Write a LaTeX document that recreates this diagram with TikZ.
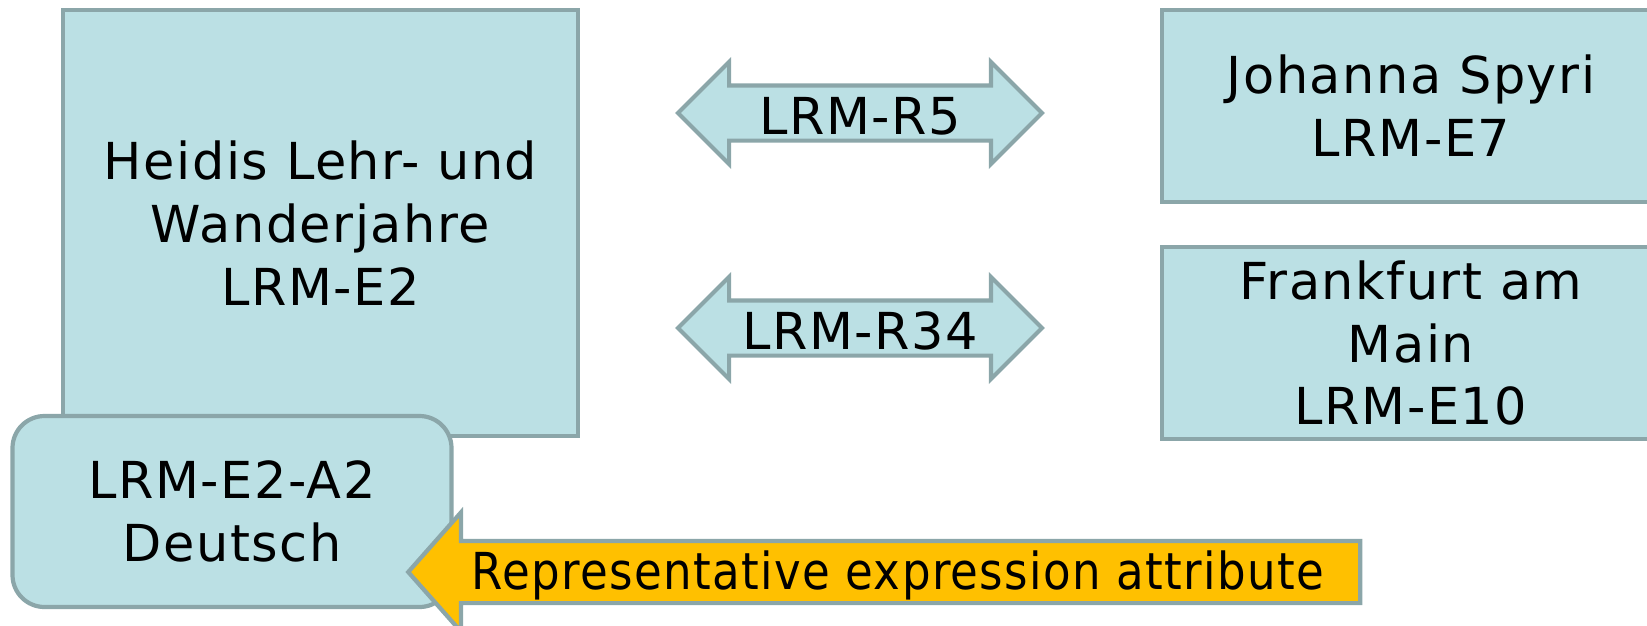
\documentclass[tikz,border=0pt]{standalone}
\usepackage{fontspec}
\setmainfont{DejaVu Sans}
\usepackage{graphicx}
\usetikzlibrary{shapes.arrows,positioning}
\definecolor{kastenfarbe}{RGB}{187,224,228}
\definecolor{randfarbe}{RGB}{139,166,169}
\definecolor{pfeilorange}{RGB}{255,192,0}
\newcommand{\grosstext}{\fontsize{14.5}{17.9}\selectfont\addfontfeature{LetterSpace=3}}

\begin{document}
\begin{tikzpicture}
		\useasboundingbox (0,0) rectangle (16.47,6.25);

		\begin{scope}[every node/.style={draw=randfarbe,fill=kastenfarbe,line width=1.2pt,align=center,inner sep=0pt,font=\grosstext}]
			\node[minimum width=5.15cm,minimum height=4.255cm] (werk) at (3.205,4.02) {Heidis Lehr- und\\Wanderjahre\\LRM-E2};
			\node[rounded corners=0.32cm,minimum width=4.39cm,minimum height=1.91cm] (sprache) at (2.32,1.135) {LRM-E2-A2\\Deutsch};
			\node[minimum width=4.98cm,minimum height=1.915cm] (person) at (14.11,5.19) {Johanna Spyri\\LRM-E7};
			\node[minimum width=4.98cm,minimum height=1.92cm] (ort) at (14.11,2.82) {Frankfurt am\\Main\\LRM-E10};
		\end{scope}

		\begin{scope}[every node/.style={double arrow,draw=randfarbe,fill=kastenfarbe,line width=1.2pt,font=\grosstext,
			double arrow head extend=0.235cm,double arrow tip angle=90,minimum height=3.64cm,
			text height=0.43cm,text depth=0cm,inner ysep=0.04cm,inner xsep=0pt}]
			\node (rfuenf) at (8.6,5.12) {LRM-R5};
			\node (rvierunddreissig) at (8.6,2.97) {LRM-R34};
		\end{scope}

		\node[single arrow,shape border rotate=180,draw=randfarbe,fill=pfeilorange,line width=1.2pt,font=\grosstext,
			single arrow head extend=0.285cm,single arrow tip angle=97,minimum height=9.52cm,
			text height=0.4cm,text depth=0.05cm,inner ysep=0.065cm,inner xsep=0pt] (hinweis) at (8.98,0.53)
			{\scalebox{0.885}[1]{Representative expression attribute}};
	\end{tikzpicture}
\end{document}
